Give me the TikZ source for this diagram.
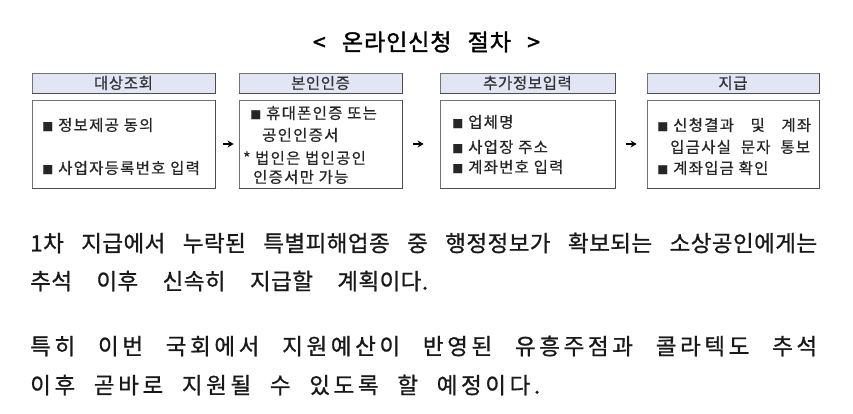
\documentclass[tikz,border=0pt]{standalone}
\usepackage{fontspec}
\setmainfont{Noto Sans CJK KR}
\newfontfamily\titlefont[LetterSpace=4,FakeBold=1.5]{Noto Sans CJK KR}
\newfontfamily\headfont[LetterSpace=4,FakeBold=0.6]{Noto Sans CJK KR}
\newfontfamily\itemfont[LetterSpace=8,FakeBold=0.6]{Noto Sans CJK KR}
\newfontfamily\paraAfont[LetterSpace=2,FakeBold=0.9]{Noto Sans CJK KR}
\newfontfamily\paraBfont[LetterSpace=16,FakeBold=0.9]{Noto Sans CJK KR}
\usetikzlibrary{arrows.meta}

\definecolor{headblue}{HTML}{E2E5F3}
\newcommand{\bul}{{\fontsize{11}{11}\selectfont ■}\hspace{5pt}}

\begin{document}
\begin{tikzpicture}[
  x=1pt, y=-1pt,
  >={Stealth[length=6pt, width=7pt]},
  head/.style={draw=black!55, line width=0.8pt, fill=headblue,
               minimum height=20pt, inner sep=0pt, text=black!80,
               font=\headfont\fontsize{15.5}{16}\selectfont},
  body/.style={draw=black!55, line width=0.8pt, fill=white,
               minimum height=88pt, inner sep=0pt},
  shade-line/.style={black!70, line width=1.4pt},
  item/.style={anchor=west, inner sep=0pt, text=black!85,
               font=\itemfont\fontsize{15.5}{16}\selectfont},
  para-a/.style={anchor=west, inner sep=0pt, text=black!90,
                 font=\paraAfont\fontsize{22.5}{23}\selectfont},
  para-b/.style={anchor=west, inner sep=0pt, text=black!90,
                 font=\paraBfont\fontsize{22.5}{23}\selectfont},
  flow/.style={->, line width=1.2pt}
]
  \useasboundingbox (0,0) rectangle (853,414);

  % title
  \node[font=\titlefont\fontsize{23}{25}\selectfont] (title) at (426.5,42)
    {\makebox[227pt][s]{< 온라인신청 절차 >}};

  % ===========================================================
  % four steps: header bar + body box
  % ===========================================================
  \node[head, minimum width=183pt] (h1) at (123.5,83) {대상조회};
  \node[body, minimum width=183pt] (b1) at (123.5,144) {};
  \node[head, minimum width=163pt] (h2) at (320.5,83) {본인인증};
  \node[body, minimum width=163pt] (b2) at (320.5,144) {};
  \node[head, minimum width=175pt] (h3) at (527.5,83) {추가정보입력};
  \node[body, minimum width=175pt] (b3) at (527.5,144) {};
  \node[head, minimum width=172pt] (h4) at (733,83) {지급};
  \node[body, minimum width=172pt] (b4) at (733,144) {};

  % darker right/bottom edges
  \foreach \n in {h1,b1,h2,b2,h3,b3,h4,b4}
    \draw[shade-line] (\n.north east) -- (\n.south east) -- (\n.south west);

  % arrows between the steps
  \draw[flow, shorten <=8pt, shorten >=5pt] (b1) -- (b2);
  \draw[flow, shorten <=11pt, shorten >=16pt] (b2) -- (b3);
  \draw[flow, shorten <=11pt, shorten >=10pt] (b3) -- (b4);

  % step 1
  \node[item] (i11) at (42,125) {\bul 정보제공 동의};
  \node[item] (i12) at (42,168) {\bul 사업자등록번호 입력};

  % step 2
  \node[item] (i21) at (250,113) {\bul 휴대폰인증 또는};
  \node[item] (i22) at (262,135) {공인인증서};
  \node[item] (i23) at (243,158) {* 법인은 법인공인};
  \node[item] (i24) at (253,177) {인증서만 가능};

  % step 3
  \node[item] (i31) at (452,122) {\bul 업체명};
  \node[item] (i32) at (452,147) {\bul 사업장 주소};
  \node[item] (i33) at (452,167) {\bul 계좌번호 입력};

  % step 4
  \node[item] (i41) at (657,125) {\bul \makebox[138pt][s]{신청결과 및 계좌}};
  \node[item] (i42) at (670,147) {\makebox[140pt][s]{입금사실 문자 통보}};
  \node[item] (i43) at (657,168) {\bul 계좌입금 확인};

  % ===========================================================
  % text below the figure
  % ===========================================================
  \node[para-a] (p11) at (30,243)
    {\makebox[787pt][s]{1차 지급에서 누락된 특별피해업종 중 행정정보가 확보되는 소상공인에게는}};
  \node[para-a] (p12) at (30,281)
    {\makebox[398pt][s]{추석 이후 신속히 지급할 계획이다.}};
  \node[para-b] (p21) at (30,346)
    {\makebox[787pt][s]{특히 이번 국회에서 지원예산이 반영된 유흥주점과 콜라텍도 추석}};
  \node[para-b] (p22) at (30,385)
    {\makebox[510pt][s]{이후 곧바로 지원될 수 있도록 할 예정이다.}};

\end{tikzpicture}
\end{document}
